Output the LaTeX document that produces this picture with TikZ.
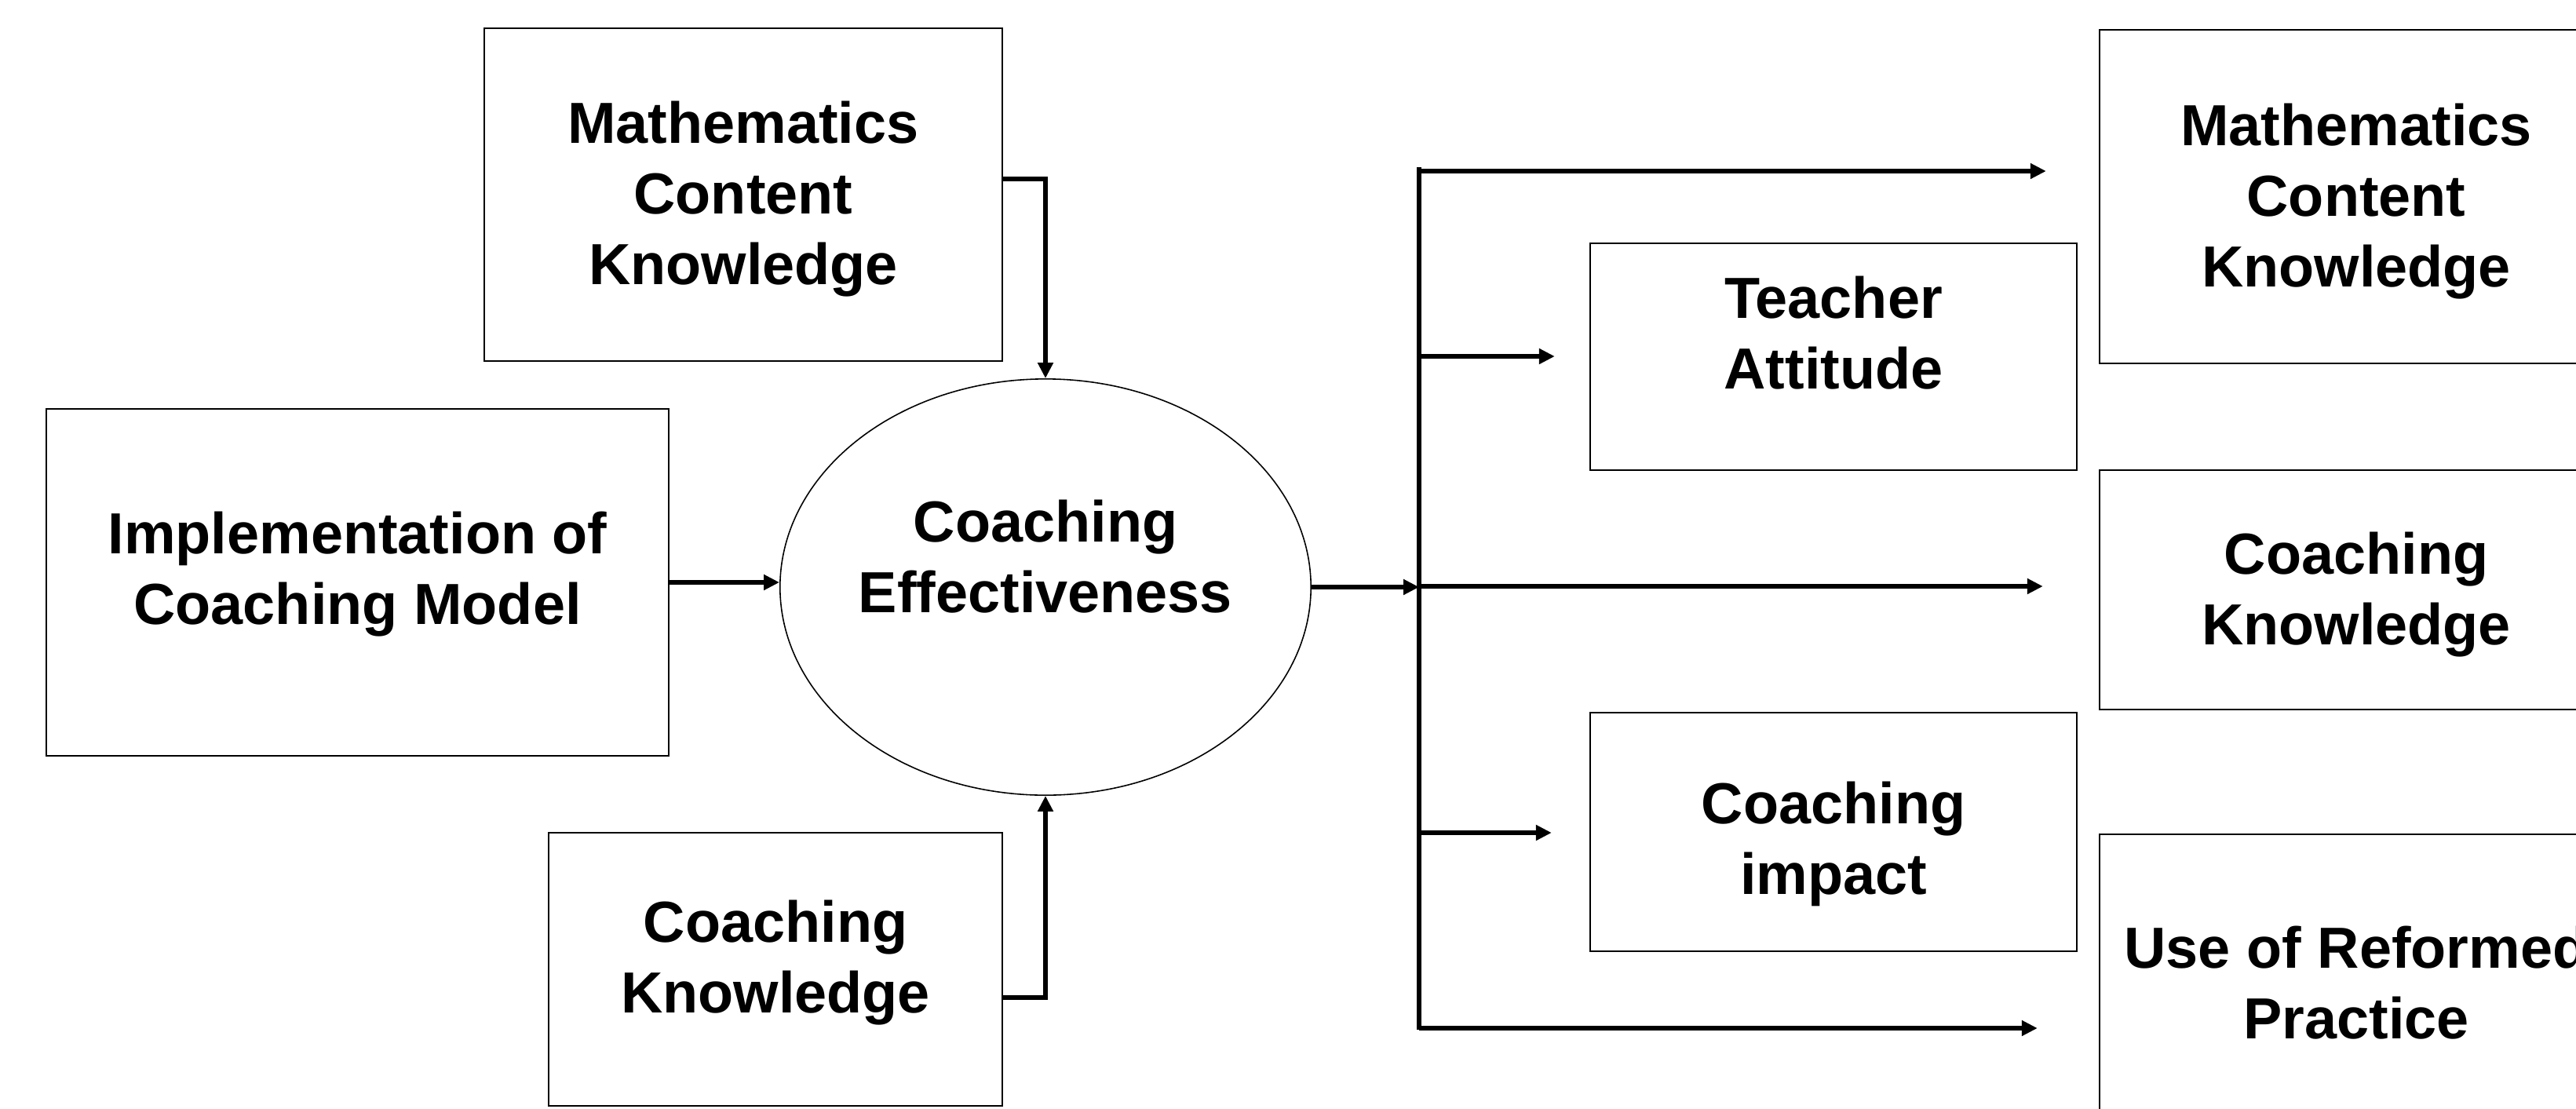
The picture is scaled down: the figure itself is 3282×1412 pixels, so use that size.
\documentclass[tikz,border=0pt]{standalone}
\usepackage{fontspec}
\setmainfont{Liberation Sans}
\usetikzlibrary{shapes.geometric,arrows.meta}
\begin{document}
\begin{tikzpicture}[x=0.01cm,y=-0.01cm,
  box/.style={draw,line width=0.57pt,rectangle,inner sep=0pt},
  txt/.style={font=\bfseries\fontsize{21}{25.6}\selectfont,align=center},
  arr/.style={line width=1.6pt,-{Triangle[length=0.2cm,width=0.19cm]}},
  ln/.style={line width=1.6pt}]
\useasboundingbox (0,0) rectangle (3282,1412);
\clip (0,0) rectangle (3282,1412);
\fill[white] (0,0) rectangle (3282,1412);

% left side
\node[box,minimum width=6.6cm,minimum height=4.24cm,
  label={[txt,yshift=-0.06cm]center:{Mathematics\\Content\\Knowledge}}] (mckL) at (947,248) {};
\node[box,minimum width=7.93cm,minimum height=4.42cm,
  label={[txt,yshift=0.1cm]center:{Implementation of\\Coaching Model}}] (impl) at (455.5,742) {};
\node[draw,ellipse,line width=0.45pt,minimum width=6.76cm,minimum height=5.3cm,inner sep=0pt,
  label={[txt,yshift=0.39cm]center:{Coaching\\Effectiveness}}] (eff) at (1332,748) {};
\node[box,minimum width=5.78cm,minimum height=3.48cm,
  label={[txt,yshift=0.08cm]center:{Coaching\\Knowledge}}] (ckL) at (988,1235) {};

% middle column
\node[box,minimum width=6.2cm,minimum height=2.89cm,
  label={[txt,yshift=0.30cm]center:{Teacher\\Attitude}}] (ta) at (2336,454.5) {};
\node[box,minimum width=6.2cm,minimum height=3.04cm,
  label={[txt,yshift=-0.15cm]center:{Coaching\\impact}}] (ci) at (2336,1060) {};

% right column
\node[box,minimum width=6.54cm,minimum height=4.25cm,
  label={[txt,yshift=-0.06cm]center:{Mathematics\\Content\\Knowledge}}] (mckR) at (3002,250.5) {};
\node[box,minimum width=6.54cm,minimum height=3.05cm,
  label={[txt,yshift=-0.06cm]center:{Coaching\\Knowledge}}] (ckR) at (3002,751.5) {};
\node[box,minimum width=6.54cm,minimum height=4.0cm,
  label={[txt,yshift=0.11cm]center:{Use of Reformed\\Practice}}] (urp) at (3002,1263) {};

% connectors into the ellipse
\draw[arr] ([yshift=0.2cm]mckL.east) -| (eff.north);
\draw[arr] ([yshift=-0.36cm]ckL.east) -| (eff.south);
\draw[arr] (impl.east) -- (impl.east -| eff.west);

% bus
\coordinate (bt) at (1808,213);
\coordinate (bb) at (1808,1312);
\draw[arr] (eff.east) -- (eff.east -| bt);
\draw[ln] (bt) -- (bb);

\coordinate (b1) at (1808,218);
\coordinate (b2) at (1808,454);
\coordinate (b3) at (1808,747);
\coordinate (b4) at (1808,1061);
\coordinate (b5) at (1808,1310);
\draw[arr] (b1) -- ([xshift=-0.67cm]b1 -| mckR.west);
\draw[arr] (b2) -- ([xshift=-0.44cm]b2 -| ta.west);
\draw[arr] (b3) -- ([xshift=-0.71cm]b3 -| ckR.west);
\draw[arr] (b4) -- ([xshift=-0.48cm]b4 -| ci.west);
\draw[arr] (b5) -- ([xshift=-0.78cm]b5 -| urp.west);
\end{tikzpicture}
\end{document}
